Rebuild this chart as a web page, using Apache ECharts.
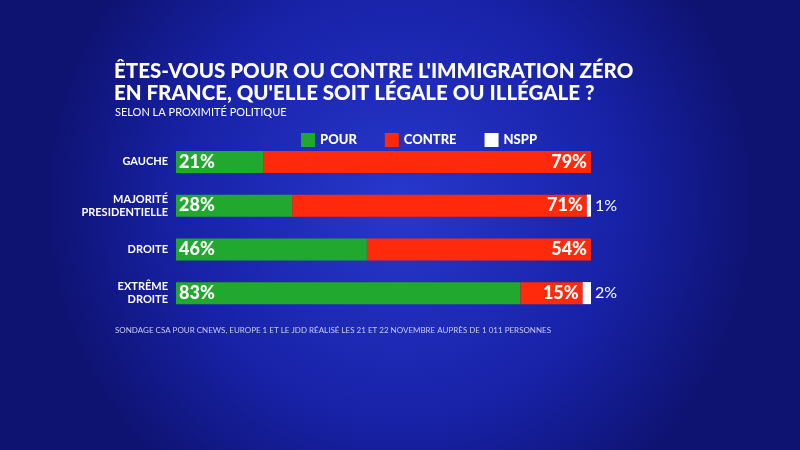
<!DOCTYPE html>
<html><head><meta charset="utf-8">
<script src="https://cdn.jsdelivr.net/npm/echarts@6/dist/echarts.min.js"></script>
<style>html,body{margin:0;padding:0}#c{width:800px;height:450px}</style>
</head><body><div id="c"></div>
<script>
const categories = ['GAUCHE','MAJORITÉ\nPRESIDENTIELLE','DROITE','EXTRÊME\nDROITE'];
const pour = [21,28,46,83];
const contre = [79,71,54,15];
const nspp = [0,1,0,2];
const chart = echarts.init(document.getElementById('c'));
const font = 'Lato, "Open Sans", sans-serif';
chart.setOption({
  backgroundColor: {type:'radial',x:0.5,y:0.45,r:0.8,colorStops:[{offset:0,color:'#2838cc'},{offset:0.6,color:'#1822a8'},{offset:1,color:'#0e1270'}]},
  title: [
    {text:"ÊTES-VOUS POUR OU CONTRE L'IMMIGRATION ZÉRO\nEN FRANCE, QU'ELLE SOIT LÉGALE OU ILLÉGALE ?",left:109,top:55,
     textStyle:{color:'#fff',fontFamily:font,fontWeight:900,fontSize:20.5,lineHeight:22}},
    {text:'SELON LA PROXIMITÉ POLITIQUE',left:110,top:102,textStyle:{color:'#fff',fontFamily:font,fontWeight:'normal',fontSize:11}},
    {text:'SONDAGE CSA POUR CNEWS, EUROPE 1 ET LE JDD RÉALISÉ LES 21 ET 22 NOVEMBRE AUPRÈS DE 1 011 PERSONNES',left:110,top:321,textStyle:{color:'#c8ccf0',fontFamily:font,fontWeight:'normal',fontSize:8}}
  ],
  legend: {top:128,left:296,itemWidth:14,itemHeight:14,itemGap:28,icon:'rect',
    textStyle:{color:'#fff',fontFamily:font,fontWeight:900,fontSize:13}},
  grid: {left:176,width:415,top:140,height:175},
  xAxis: {type:'value',min:0,max:100,show:false},
  yAxis: {type:'category',data:categories,inverse:true,axisLine:{show:false},axisTick:{show:false},
    axisLabel:{color:'#fff',fontFamily:font,fontWeight:'bold',fontSize:11,lineHeight:13,margin:8,align:'right'}},
  series: [
    {name:'POUR',type:'bar',stack:'a',data:pour,barWidth:22,itemStyle:{color:'#21a82e'},
     label:{show:true,position:'insideLeft',distance:3,formatter:'{c}%',color:'#fff',fontFamily:font,fontWeight:900,fontSize:18}},
    {name:'CONTRE',type:'bar',stack:'a',data:contre,barWidth:22,itemStyle:{color:'#ff2a0c'},
     label:{show:true,position:'insideRight',distance:4,formatter:'{c}%',color:'#fff',fontFamily:font,fontWeight:900,fontSize:18}},
    {name:'NSPP',type:'bar',stack:'a',data:nspp,barWidth:22,itemStyle:{color:'#fff'},
     label:{show:true,position:'right',distance:4,formatter:p=>p.value?p.value+'%':'',color:'#fff',fontFamily:font,fontWeight:'normal',fontSize:16}}
  ]
});
</script></body></html>
